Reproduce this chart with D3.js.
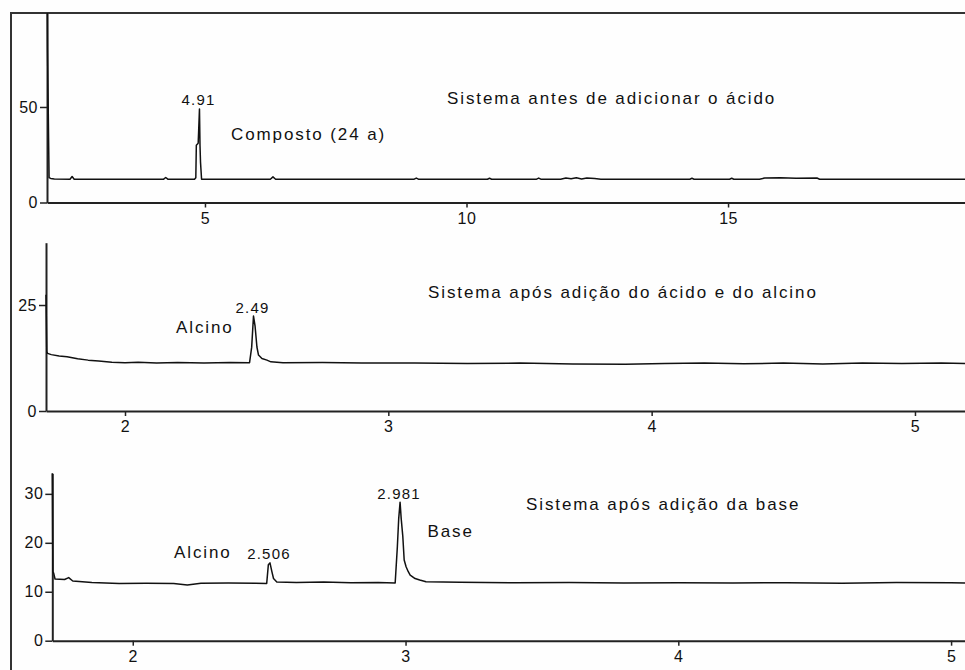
<!DOCTYPE html>
<html>
<head>
<meta charset="utf-8">
<script src="https://cdn.jsdelivr.net/npm/d3@7"></script>
<style>
  body { margin: 0; background: #fff; }
  svg { display: block; }
  text { font-family: "Liberation Sans", Arial, sans-serif; fill: #111; }
</style>
</head>
<body>
<script>
// chromatograms, [time (min), signal]
var trace1 = [
  [1.98, 130], [1.99, 80], [2.01, 34], [2.02, 13], [2.05, 12.6], [2.12, 12.3],
  [2.42, 12.2], [2.46, 13.6], [2.50, 12.2], [4.21, 12.2], [4.25, 13.1], [4.29, 12.2],
  [4.80, 12.2], [4.825, 13], [4.835, 30], [4.87, 31], [4.88, 38], [4.895, 49],
  [4.905, 30], [4.915, 21], [4.935, 12.2], [6.25, 12.2], [6.30, 13.4], [6.35, 12.2],
  [9.00, 12.2], [9.04, 12.8], [9.08, 12.2], [10.40, 12.2], [10.44, 12.7], [10.48, 12.2],
  [11.34, 12.2], [11.38, 12.8], [11.42, 12.2], [11.80, 12.2], [11.90, 12.8], [12.00, 12.4],
  [12.10, 12.9], [12.20, 12.3], [12.30, 12.8], [12.45, 12.5], [12.57, 12.2],
  [14.27, 12.2], [14.31, 12.7], [14.35, 12.2], [15.03, 12.2], [15.07, 12.7], [15.11, 12.2],
  [15.60, 12.2], [15.70, 12.8], [16.00, 12.9], [16.30, 12.7], [16.70, 12.8], [16.75, 12.2],
  [19.53, 12.2]
];
var trace2 = [
  [1.70, 27.4], [1.703, 14], [1.706, 13.6], [1.72, 13.3], [1.75, 13.0], [1.78, 12.8],
  [1.82, 12.3], [1.86, 12.0], [1.90, 11.8], [1.95, 11.5], [2.0, 11.4], [2.05, 11.5],
  [2.12, 11.3], [2.2, 11.45], [2.3, 11.3], [2.4, 11.45], [2.473, 11.4], [2.481, 15],
  [2.488, 22.4], [2.494, 20], [2.501, 15.1], [2.507, 13.2], [2.520, 12.4], [2.539, 12.0],
  [2.554, 11.6], [2.6, 11.4], [2.75, 11.45], [2.9, 11.3], [3.1, 11.35], [3.3, 11.2],
  [3.5, 11.3], [3.7, 11.1], [3.9, 11.0], [4.05, 11.2], [4.2, 11.35], [4.35, 11.15],
  [4.5, 11.3], [4.65, 11.1], [4.8, 11.3], [4.95, 11.2], [5.1, 11.35], [5.19, 11.2]
];
var trace3 = [
  [1.705, 34.3], [1.707, 14.1], [1.710, 13.8], [1.715, 12.6], [1.75, 12.5], [1.765, 12.9],
  [1.78, 12.2], [1.85, 11.9], [1.95, 11.7], [2.05, 11.75], [2.15, 11.7], [2.2, 11.4],
  [2.25, 11.75], [2.35, 11.8], [2.45, 11.75], [2.491, 11.7], [2.497, 15.5], [2.503, 15.9],
  [2.510, 14.1], [2.516, 12.7], [2.528, 12.0], [2.6, 11.9], [2.7, 12.0], [2.8, 11.85],
  [2.9, 11.9], [2.962, 11.8], [2.970, 19.2], [2.975, 25], [2.980, 28.3], [2.984, 25],
  [2.990, 21.3], [2.995, 16.5], [3.002, 15.1], [3.010, 14.1], [3.017, 13.4], [3.035, 12.7],
  [3.052, 12.4], [3.075, 12.05], [3.2, 11.95], [3.4, 11.85], [3.6, 11.9], [3.8, 11.8],
  [4.0, 11.85], [4.2, 11.8], [4.4, 11.85], [4.6, 11.75], [4.8, 11.9], [5.0, 11.85], [5.051, 11.8]
];

var xDomain1 = [1.98, 19.53], yDomain1 = [0, 99.2];
var xDomain2 = [1.70, 5.19],  yDomain2 = [0, 39.7];
var xDomain3 = [1.705, 5.051], yDomain3 = [0, 34.2];

var xTicks1 = [5, 10, 15], yTicks1 = [0, 50];
var xTicks2 = [2, 3, 4, 5], yTicks2 = [0, 25];
var xTicks3 = [2, 3, 4, 5], yTicks3 = [0, 10, 20, 30];

var peakTimes1 = [4.895], peakHeights1 = [49], peakLabels1 = ["4.91"];
var peakTimes2 = [2.488], peakHeights2 = [22.4], peakLabels2 = ["2.49"];
var peakTimes3 = [2.503, 2.980], peakHeights3 = [15.9, 28.3], peakLabels3 = ["2.506", "2.981"];

var titles = [
  "Sistema antes de adicionar o ácido",
  "Sistema após adição do ácido e do alcino",
  "Sistema após adição da base"
];
var compoundNames1 = ["Composto (24 a)"];
var compoundNames2 = ["Alcino"];
var compoundNames3 = ["Alcino", "Base"];

var W = 965, H = 670;
var svg = d3.select("body").append("svg").attr("width", W).attr("height", H);
svg.append("rect").attr("width", W).attr("height", H).attr("fill", "#fefefe");

// outer frame (only left and top edges are visible)
svg.append("path")
  .attr("d", "M11,670 L11,13 L965,13")
  .attr("fill", "none").attr("stroke", "#333").attr("stroke-width", 2);

var panels = [
  { data: trace1, xd: xDomain1, yd: yDomain1, xt: xTicks1, yt: yTicks1,
    left: 47, top: 13, bottom: 202.5,
    pt: peakTimes1, ph: peakHeights1, pl: peakLabels1,
    title: titles[0], titlePos: [447, 104],
    names: compoundNames1, namePos: [[231, 140]] },
  { data: trace2, xd: xDomain2, yd: yDomain2, xt: xTicks2, yt: yTicks2,
    left: 46, top: 242.7, bottom: 411,
    pt: peakTimes2, ph: peakHeights2, pl: peakLabels2,
    title: titles[1], titlePos: [428, 297.5],
    names: compoundNames2, namePos: [[176, 332.5]] },
  { data: trace3, xd: xDomain3, yd: yDomain3, xt: xTicks3, yt: yTicks3,
    left: 52.3, top: 473.3, bottom: 640.7,
    pt: peakTimes3, ph: peakHeights3, pl: peakLabels3,
    title: titles[2], titlePos: [526, 509.5],
    names: compoundNames3, namePos: [[174, 557.5], [427.5, 536.7]] }
];

panels.forEach(function (p, i) {
  var x = d3.scaleLinear().domain(p.xd).range([p.left, W]);
  var y = d3.scaleLinear().domain(p.yd).range([p.bottom, p.top]);

  var clipId = "clip" + i;
  svg.append("clipPath").attr("id", clipId)
    .append("rect")
    .attr("x", p.left - 2).attr("y", p.top)
    .attr("width", W - p.left + 2).attr("height", p.bottom - p.top);

  var xAxis = d3.axisBottom(x).tickValues(p.xt).tickFormat(d3.format("d"))
    .tickSize(5).tickSizeOuter(0).tickPadding(5);
  var yAxis = d3.axisLeft(y).tickValues(p.yt).tickFormat(d3.format("d"))
    .tickSize(7).tickSizeOuter(0).tickPadding(2);

  var gx = svg.append("g").attr("transform", "translate(0," + p.bottom + ")").call(xAxis);
  var gy = svg.append("g").attr("transform", "translate(" + p.left + ",0)").call(yAxis);

  [gx, gy].forEach(function (g) {
    g.attr("font-family", null).attr("font-size", null);
    g.select(".domain").attr("stroke", "#222").attr("stroke-width", 2);
    g.selectAll(".tick line").attr("stroke", "#222").attr("stroke-width", 1.5);
    g.selectAll(".tick text")
      .attr("fill", "#111")
      .style("font-size", "16px")
      .style("letter-spacing", "0.5px");
  });

  var line = d3.line()
    .x(function (d) { return x(d[0]); })
    .y(function (d) { return y(d[1]); });

  svg.append("path")
    .datum(p.data)
    .attr("clip-path", "url(#" + clipId + ")")
    .attr("d", line)
    .attr("fill", "none")
    .attr("stroke", "#111")
    .attr("stroke-width", 1.5)
    .attr("stroke-linejoin", "round");

  // retention time labels above each peak
  p.pt.forEach(function (t, k) {
    svg.append("text")
      .attr("x", x(t) - 1)
      .attr("y", y(p.ph[k]) - 3.5)
      .attr("text-anchor", "middle")
      .style("font-size", "15px")
      .style("letter-spacing", "1.2px")
      .text(p.pl[k]);
  });

  svg.append("text")
    .attr("x", p.titlePos[0]).attr("y", p.titlePos[1])
    .style("font-size", "17px")
    .style("letter-spacing", "1.9px")
    .text(p.title);

  p.names.forEach(function (n, k) {
    svg.append("text")
      .attr("x", p.namePos[k][0]).attr("y", p.namePos[k][1])
      .style("font-size", "17px")
      .style("letter-spacing", "1.9px")
      .text(n);
  });
});
</script>
</body>
</html>
